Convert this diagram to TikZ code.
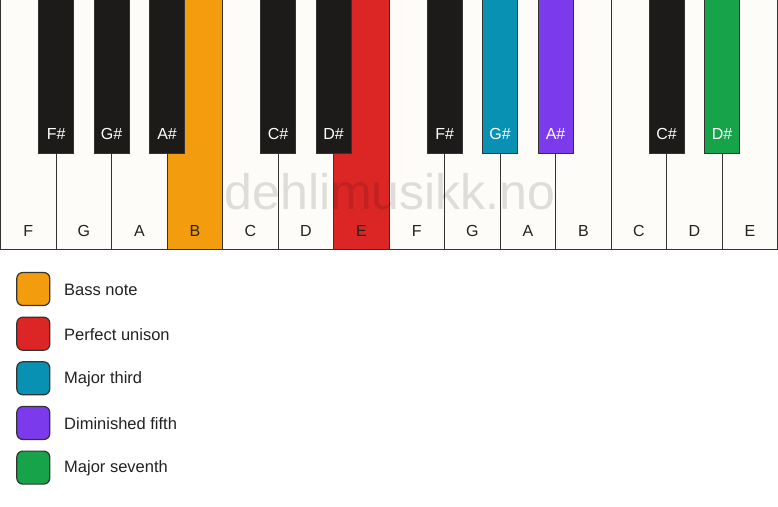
\documentclass[tikz,border=0pt]{standalone}
\usepackage{fontspec}
\setmainfont{Liberation Sans}
\definecolor{keywhite}{HTML}{FDFCF8}
\definecolor{keyblack}{HTML}{1C1B19}
\definecolor{keyline}{HTML}{333333}
\definecolor{cbass}{HTML}{F39C0E}
\definecolor{cunison}{HTML}{DC2626}
\definecolor{cthird}{HTML}{0891B2}
\definecolor{cfifth}{HTML}{7C3AED}
\definecolor{cseventh}{HTML}{16A34A}
\definecolor{txt}{HTML}{222222}
\tikzset{
  whitekey/.style={draw=keyline, line width=1.2pt, fill=keywhite},
  blackkey/.style={draw=keyline, line width=0.8pt, fill=keyblack},
  wlabel/.style={font=\fontsize{16}{16}\selectfont, text=txt, anchor=base, inner sep=0pt},
  blabel/.style={font=\fontsize{16}{16}\selectfont, text=white, anchor=base, inner sep=0pt},
  legbox/.style={draw=keyline, line width=1.2pt, rounded corners=6pt, minimum width=33pt, minimum height=33pt, inner sep=0pt},
  legtext/.style={font=\fontsize{16.5}{16.5}\selectfont, text=txt, anchor=west, inner sep=0pt},
}
\begin{document}
\begin{tikzpicture}[x=1pt,y=-1pt]
\useasboundingbox (0,0) rectangle (778,506);
\fill[white] (0,0) rectangle (778,506);
\def\w{55.5}
% white keys
\foreach \i/\n/\c in {0/F/keywhite,1/G/keywhite,2/A/keywhite,3/B/cbass,4/C/keywhite,5/D/keywhite,6/E/cunison,7/F/keywhite,8/G/keywhite,9/A/keywhite,10/B/keywhite,11/C/keywhite,12/D/keywhite,13/E/keywhite}{
  \path[whitekey, fill=\c] ({\i*\w+0.6},-2) rectangle ({(\i+1)*\w+0.6},249.6);
  \node[wlabel] (w\i) at ({(\i+0.5)*\w+0.6},236.5) {\n};
}
% black keys
\foreach \b/\n/\c in {1/F\#/keyblack,2/G\#/keyblack,3/A\#/keyblack,5/C\#/keyblack,6/D\#/keyblack,8/F\#/keyblack,9/G\#/cthird,10/A\#/cfifth,12/C\#/keyblack,13/D\#/cseventh}{
  \path[blackkey, fill=\c] ({\b*\w+0.6-17.3},-2) rectangle ({\b*\w+0.6+17.3},153);
  \node[blabel] (b\b) at ({\b*\w+0.6},139.3) {\n};
}
% watermark
\node[anchor=base, text=black, opacity=0.12, font=\fontsize{50}{50}\selectfont, inner sep=0pt] (wm) at (390,209) {dehlimusikk.no};
% legend
\foreach \k/\y/\c/\t in {1/289/cbass/Bass note,2/333.7/cunison/Perfect unison,3/378.3/cthird/Major third,4/423/cfifth/Diminished fifth,5/467.6/cseventh/Major seventh}{
  \node[legbox, fill=\c] (lb\k) at (33.3,\y) {};
  \node[legtext] (lt\k) at (64,\y+0.5) {\t};
}
\end{tikzpicture}
\end{document}
